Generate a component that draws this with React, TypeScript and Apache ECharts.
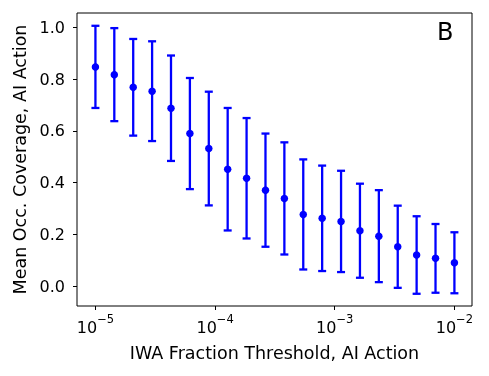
import React, { useEffect, useRef } from "react";
import * as echarts from "echarts";

const thresholds = [
  1.0e-5, 1.438e-5, 2.069e-5, 2.976e-5, 4.281e-5, 6.158e-5, 8.859e-5,
  1.274e-4, 1.833e-4, 2.637e-4, 3.793e-4, 5.456e-4, 7.848e-4, 1.129e-3,
  1.624e-3, 2.336e-3, 3.36e-3, 4.833e-3, 6.952e-3, 1.0e-2,
];
const meanCoverage = [
  0.848, 0.818, 0.769, 0.754, 0.688, 0.59, 0.532, 0.452, 0.417, 0.371,
  0.339, 0.277, 0.262, 0.25, 0.214, 0.193, 0.152, 0.12, 0.107, 0.09,
];
const errHalf = [
  0.159, 0.18, 0.187, 0.193, 0.204, 0.215, 0.22, 0.237, 0.233, 0.219,
  0.217, 0.213, 0.204, 0.196, 0.182, 0.178, 0.159, 0.15, 0.133, 0.118,
];
const xTickValues = [1e-5, 1e-4, 1e-3, 1e-2];
const yTickValues = [0, 0.2, 0.4, 0.6, 0.8, 1.0];

const FONT = "DejaVu Sans";
const BLUE = "#0000ff";

export default function App() {
  const ref = useRef<HTMLDivElement>(null);
  useEffect(() => {
    if (!ref.current) return;
    const chart = echarts.init(ref.current, null, { renderer: "svg" });
    const points = thresholds.map((x, i) => [x, meanCoverage[i]]);
    const bars = thresholds.map((x, i) => [
      x,
      meanCoverage[i] - errHalf[i],
      meanCoverage[i] + errHalf[i],
    ]);
    chart.setOption({
      animation: false,
      textStyle: { fontFamily: FONT },
      grid: {
        left: 77,
        top: 13,
        right: 17,
        bottom: 70,
        show: true,
        borderColor: "#000",
        borderWidth: 1,
        backgroundColor: "transparent",
      },
      xAxis: {
        type: "log",
        logBase: 10,
        min: Math.pow(10, -5.154),
        max: Math.pow(10, -1.853),
        name: "IWA Fraction Threshold, AI Action",
        nameLocation: "middle",
        nameGap: 38,
        nameTextStyle: { fontFamily: FONT, fontSize: 17.5, color: "#000" },
        axisLine: { show: false, onZero: false },
        splitLine: { show: false },
        minorTick: { show: false },
        axisTick: {
          show: true,
          inside: false,
          length: 4,
          lineStyle: { color: "#000", width: 1 },
          customValues: xTickValues,
        },
        axisLabel: {
          customValues: xTickValues,
          margin: 7,
          color: "#000",
          formatter: (v: number) =>
            `{b|10}{s|−${Math.abs(Math.round(Math.log10(v)))}}`,
          rich: {
            b: { fontFamily: FONT, fontSize: 16, color: "#000", padding: [6, 0, 0, 0] },
            s: { fontFamily: FONT, fontSize: 11.5, color: "#000", verticalAlign: "top" },
          },
        },
      },
      yAxis: {
        type: "value",
        min: -0.0773,
        max: 1.0565,
        name: "Mean Occ. Coverage, AI Action",
        nameLocation: "middle",
        nameGap: 48,
        nameTextStyle: { fontFamily: FONT, fontSize: 17.5, color: "#000" },
        axisLine: { show: false, onZero: false },
        splitLine: { show: false },
        axisTick: {
          show: true,
          inside: false,
          length: 4,
          lineStyle: { color: "#000", width: 1 },
          customValues: yTickValues,
        },
        axisLabel: {
          customValues: yTickValues,
          margin: 12,
          color: "#000",
          fontFamily: FONT,
          fontSize: 16,
          formatter: (v: number) => v.toFixed(1),
        },
      },
      series: [
        {
          type: "custom",
          data: bars,
          encode: { x: 0, y: [1, 2] },
          renderItem: (params: any, api: any) => {
            const x = api.value(0);
            const lo = api.coord([x, api.value(1)]);
            const hi = api.coord([x, api.value(2)]);
            const cap = 4;
            const style = { stroke: BLUE, lineWidth: 2.3 };
            return {
              type: "group",
              children: [
                { type: "line", shape: { x1: lo[0], y1: lo[1], x2: hi[0], y2: hi[1] }, style },
                { type: "line", shape: { x1: lo[0] - cap, y1: lo[1], x2: lo[0] + cap, y2: lo[1] }, style },
                { type: "line", shape: { x1: hi[0] - cap, y1: hi[1], x2: hi[0] + cap, y2: hi[1] }, style },
              ],
            };
          },
          z: 2,
        },
        {
          type: "scatter",
          data: points,
          symbol: "circle",
          symbolSize: 7.5,
          itemStyle: { color: BLUE, opacity: 1 },
          z: 3,
        },
      ],
      graphic: [
        {
          type: "text",
          left: 437,
          top: 20,
          style: { text: "B", fontFamily: FONT, fontSize: 24, fill: "#000" },
        },
      ],
    });
    return () => chart.dispose();
  }, []);
  return (
    <div
      ref={ref}
      style={{ position: "fixed", left: 0, top: 0, width: 489, height: 376 }}
    />
  );
}
